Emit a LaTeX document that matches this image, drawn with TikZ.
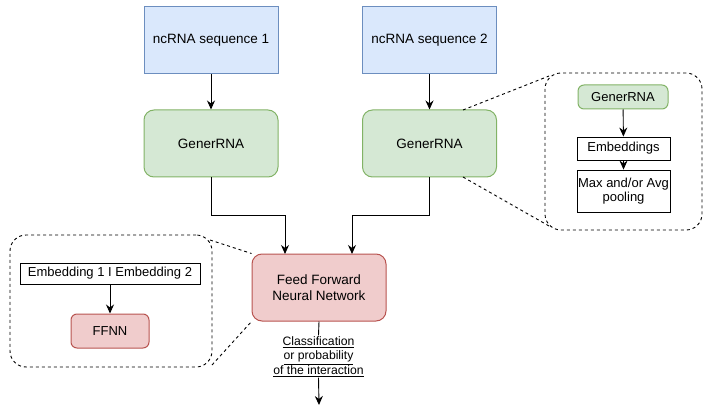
\documentclass[tikz,border=0pt]{standalone}
\usepackage{fontspec}
\setmainfont{Liberation Sans}
\usetikzlibrary{arrows.meta}
\definecolor{bfill}{HTML}{DAE8FC}\definecolor{bdraw}{HTML}{6C8EBF}
\definecolor{gfill}{HTML}{D5E8D4}\definecolor{gdraw}{HTML}{82B366}
\definecolor{rfill}{HTML}{F0CCCC}\definecolor{rdraw}{HTML}{B85450}
\tikzset{
  seqbox/.style={draw=bdraw,fill=bfill,line width=1pt,minimum width=134pt,minimum height=67pt,inner sep=0pt,font=\fontsize{13.5}{16}\selectfont},
  genbox/.style={draw=gdraw,fill=gfill,line width=1pt,rounded corners=10pt,minimum width=134pt,minimum height=67pt,inner sep=0pt,font=\fontsize{13.5}{16}\selectfont},
  ffbox/.style={draw=rdraw,fill=rfill,line width=1pt,rounded corners=10pt,minimum width=134pt,minimum height=67pt,inner sep=0pt,align=center,font=\fontsize{13.5}{16}\selectfont},
  plainbox/.style={draw=black,fill=white,line width=0.9pt,inner sep=0pt,align=center,font=\fontsize{13}{14.5}\selectfont},
  dashbox/.style={draw=black,dashed,line width=0.9pt,rounded corners=16pt,inner sep=0pt},
  arr/.style={-{Stealth[length=9pt,width=8pt]},line width=0.9pt},
  dline/.style={dashed,line width=0.9pt},
}
\begin{document}
\begin{tikzpicture}[x=1pt,y=-1pt]
\useasboundingbox (0,0) rectangle (708,411);
% main column
\node[seqbox] (s1) at (211,40.5) {ncRNA sequence 1};
\node[seqbox] (s2) at (429.5,40.5) {ncRNA sequence 2};
\node[genbox] (g1) at (211,143.5) {GenerRNA};
\node[genbox] (g2) at (429.5,143.5) {GenerRNA};
\node[ffbox] (ff) at (319,287.5) {Feed Forward\\Neural Network};
\draw[arr] (s1) -- (g1);
\draw[arr] (s2) -- (g2);
\draw[arr] (g1.south) |- (285,215) -- (285,254);
\draw[arr] (g2.south) |- (352,215) -- (352,254);
\node[align=center,inner sep=1pt,font=\fontsize{12.2}{14.5}\selectfont] (lab) at (318.5,356.5)
  {\underline{Classification}\\\underline{or probability}\\\underline{of the interaction}};
\coordinate (out) at (319,405);
\draw[line width=0.9pt] (ff.south) -- (lab.north);
\draw[arr] (lab.south) -- (out);
% left inset
\node[dashbox,minimum width=202pt,minimum height=132pt] (lbox) at (111,301) {};
\node[plainbox,minimum width=180pt,minimum height=21pt] (emb12) at (110,273.5) {Embedding 1 I Embedding 2};
\node[ffbox,minimum width=78pt,minimum height=34pt,rounded corners=6pt,font=\fontsize{13}{15}\selectfont] (ffs) at (110,331) {FFNN};
\draw[arr] (emb12) -- (ffs);
\coordinate (l1) at (210,240);
\coordinate (l2) at (212,365);
\draw[dline] (l1) -- (ff.north west);
\draw[dline] (l2) -- (ff.south west);
% right inset
\node[dashbox,minimum width=157pt,minimum height=157pt] (rbox) at (623.5,151.5) {};
\node[genbox,minimum width=90pt,minimum height=24pt,rounded corners=6pt,font=\fontsize{13}{15}\selectfont] (gs) at (623,97) {GenerRNA};
\node[plainbox,minimum width=93pt,minimum height=23pt] (embs) at (623.5,148.5) {Embeddings};
\node[plainbox,minimum width=93pt,minimum height=42pt] (pool) at (623.5,191) {Max and/or Avg\\pooling};
\draw[arr] (gs) -- (embs);
\draw[arr] (embs) -- (pool);
\coordinate (r1) at (549,76);
\coordinate (r2) at (549,226);
\draw[dline] (463,110) -- (r1);
\draw[dline] (463,177) -- (r2);
\end{tikzpicture}
\end{document}
